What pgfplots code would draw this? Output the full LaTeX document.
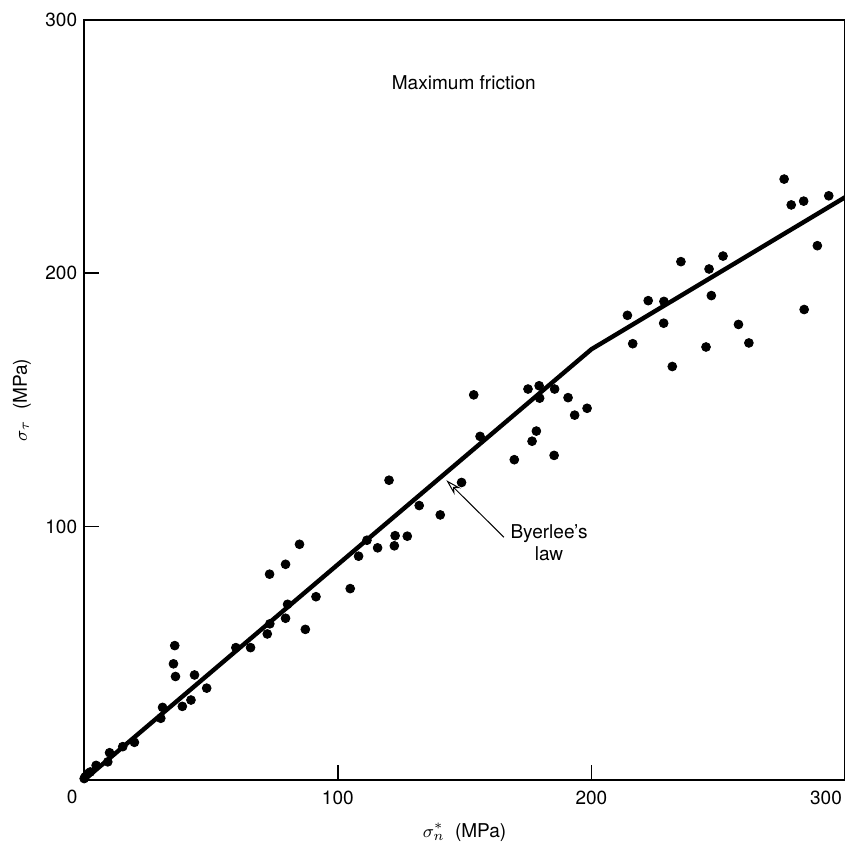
\documentclass[border=0pt]{standalone}
\usepackage{fontspec}
\setmainfont{TeX Gyre Heros}
\usepackage{pgfplots}
\pgfplotsset{compat=1.18}
\usetikzlibrary{arrows.meta}

% measured points, normal stress vs shear stress at max friction
\pgfplotstableread{
x y
0.0 0.5
0.4 1.2
1.3 2.4
2.4 3.1
4.7 5.7
9.3 7.1
10.0 10.7
15.2 13.1
19.8 14.8
30.2 24.3
30.9 28.6
35.7 53.0
35.2 45.8
36.0 40.8
38.7 29.0
42.1 31.5
43.5 41.4
48.3 36.2
59.8 52.2
65.6 52.2
72.2 57.6
73.2 61.6
73.1 81.2
79.4 63.8
80.2 69.3
79.4 85.1
84.9 93.0
87.2 59.4
91.4 72.3
104.9 75.5
108.2 88.3
111.5 94.6
115.7 91.6
120.2 118.3
122.3 92.4
122.6 96.4
127.4 96.2
132.1 108.3
140.4 104.6
148.8 117.4
153.6 152.0
156.1 135.6
169.6 126.4
175.0 154.3
176.6 133.7
178.3 137.7
179.4 155.6
179.6 150.7
185.3 128.1
185.5 154.3
190.8 150.9
193.4 144.0
198.3 146.7
214.2 183.4
216.3 172.2
222.4 189.2
228.6 188.9
228.5 180.3
231.9 163.2
235.3 204.6
245.2 170.9
246.4 201.7
247.3 191.2
251.9 206.8
258.0 179.8
262.1 172.5
276.0 237.2
278.8 227.0
283.7 228.5
283.9 185.7
289.1 210.9
293.6 230.6
}\points

\begin{document}
\begin{tikzpicture}[font=\fontsize{9.5}{11}\selectfont]
\begin{axis}[
    scale only axis,
    width=379.5pt, height=379pt,
    xmin=0, xmax=300, ymin=0, ymax=300,
    xtick={100,200}, ytick={100,200,300},
    extra x ticks={300},
    extra x tick style={xticklabel style={anchor=north east, xshift=2pt}},
    tick align=inside, tick pos=left,
    major tick length=7.5pt,
    axis line style={line width=1.2pt},
    tick style={line width=0.8pt, black},
    /pgf/number format/assume math mode=true,
    xticklabel style={yshift=-2pt},
    xlabel={$\sigma_n^{*}$\ \ (MPa)},
    ylabel={$\sigma_\tau$\ \ (MPa)},
    every axis x label/.style={at={(axis description cs:0.5,-0.0686)},anchor=center},
    every axis y label/.style={at={(axis description cs:-0.0817,0.5)},rotate=90,anchor=center},
]
\addplot[black, line width=2.2pt] coordinates {(0,0) (200,170) (300,230)};
\addplot[only marks, mark=*, mark size=2.2pt, black] table {\points};

\node at (rel axis cs:0.499,0.918) {Maximum friction};
\node[align=center] at (axis cs:183.3,93.8) {Byerlee's\\law};
\draw[line width=0.5pt, -{Stealth[length=8pt,width=4.5pt,open]}]
    (axis cs:165.5,95.8) -- (axis cs:142.8,118.3);
\end{axis}
\node at ([shift={(-6pt,-8.5pt)}]current axis.south west) {0};
\pgfresetboundingbox
\path[use as bounding box] ([shift={(-42pt,-32.5pt)}]current axis.south west)
    rectangle ([shift={(0pt,10pt)}]current axis.north east);
\end{tikzpicture}
\end{document}
